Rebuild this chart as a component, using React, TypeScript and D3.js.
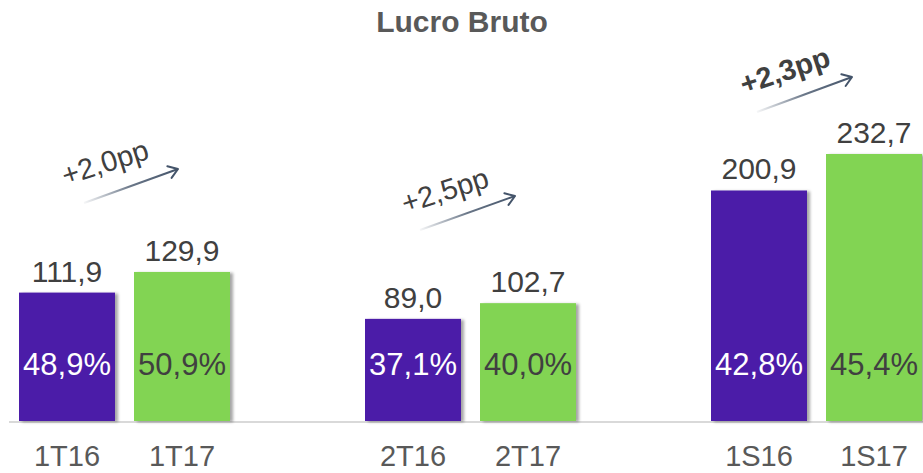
import React from "react";
import * as d3 from "d3";

const categories = ["1T16", "1T17", "2T16", "2T17", "1S16", "1S17"];
const values = [111.9, 129.9, 89.0, 102.7, 200.9, 232.7];
const valueLabels = ["111,9", "129,9", "89,0", "102,7", "200,9", "232,7"];
const marginLabels = ["48,9%", "50,9%", "37,1%", "40,0%", "42,8%", "45,4%"];
const deltaLabels = ["+2,0pp", "+2,5pp", "+2,3pp"];

const W = 923;
const H = 473;
const baseY = 421;
const PURPLE = "#4b1fa8";
const GREEN = "#82d452";
const FONT = "Liberation Sans, Arial, sans-serif";

export default function App() {
  const y = d3.scaleLinear().domain([0, 232.7]).range([baseY, 154]);
  const gx = d3.scaleLinear().domain([0, 2]).range([19, 711]);
  const barW = 96;
  const pairGap = 19;
  const xOf = (i: number) => gx(Math.floor(i / 2)) + (i % 2) * (barW + pairGap);

  const arrows = [
    { x1: 84, y1: 203, x2: 178, y2: 169, tx: 108, ty: 172, bold: false },
    { x1: 420, y1: 230, x2: 515, y2: 196, tx: 448, ty: 200, bold: false },
    { x1: 757, y1: 112, x2: 852, y2: 77, tx: 788, ty: 80, bold: true },
  ];

  return (
    <svg width={W} height={H} style={{ position: "absolute", left: 0, top: 0, background: "#fff" }}>
      <defs>
        <filter id="sh" x="-10%" y="-10%" width="130%" height="120%">
          <feDropShadow dx="3" dy="1" stdDeviation="1.5" floodColor="#000" floodOpacity="0.35" />
        </filter>
        {arrows.map((a, i) => (
          <linearGradient key={i} id={`ag${i}`} gradientUnits="userSpaceOnUse" x1={a.x1} y1={a.y1} x2={a.x2} y2={a.y2}>
            <stop offset="0" stopColor="#44546a" stopOpacity="0.05" />
            <stop offset="0.5" stopColor="#44546a" stopOpacity="0.8" />
            <stop offset="1" stopColor="#44546a" stopOpacity="1" />
          </linearGradient>
        ))}
      </defs>
      <text x={462} y={32} textAnchor="middle" fontFamily={FONT} fontWeight="bold" fontSize={30} fill="#595959">
        Lucro Bruto
      </text>
      <line x1={9} x2={W} y1={baseY + 1} y2={baseY + 1} stroke="#d9d9d9" strokeWidth={2} />
      {values.map((v, i) => {
        const x = xOf(i);
        const cx = x + barW / 2;
        return (
          <g key={i}>
            <rect x={x} y={y(v)} width={barW} height={baseY - y(v)} fill={i % 2 === 0 ? PURPLE : GREEN} filter="url(#sh)" />
            <text x={cx} y={y(v) - 11} textAnchor="middle" fontFamily={FONT} fontSize={30} fill="#404040">
              {valueLabels[i]}
            </text>
            <text x={cx} y={375} textAnchor="middle" fontFamily={FONT} fontSize={31} fill={i % 2 === 0 ? "#ffffff" : "#404040"}>
              {marginLabels[i]}
            </text>
            <text x={cx} y={466} textAnchor="middle" fontFamily={FONT} fontSize={29} fill="#595959">
              {categories[i]}
            </text>
          </g>
        );
      })}
      {arrows.map((a, i) => {
        const ang = (Math.atan2(a.y2 - a.y1, a.x2 - a.x1) * 180) / Math.PI;
        const hl = 11;
        const rad = Math.atan2(a.y2 - a.y1, a.x2 - a.x1);
        const h1x = a.x2 - hl * Math.cos(rad - 0.6);
        const h1y = a.y2 - hl * Math.sin(rad - 0.6);
        const h2x = a.x2 - hl * Math.cos(rad + 0.6);
        const h2y = a.y2 - hl * Math.sin(rad + 0.6);
        return (
          <g key={i}>
            <line x1={a.x1} y1={a.y1} x2={a.x2} y2={a.y2} stroke={`url(#ag${i})`} strokeWidth={2} />
            <path d={`M${h1x},${h1y}L${a.x2},${a.y2}L${h2x},${h2y}`} fill="none" stroke="#44546a" strokeWidth={2} strokeLinecap="round" strokeLinejoin="round" />
            <text
              x={a.tx}
              y={a.ty}
              textAnchor="middle"
              transform={`rotate(${ang + 2} ${a.tx} ${a.ty})`}
              fontFamily={FONT}
              fontSize={29}
              fontWeight={a.bold ? "bold" : "normal"}
              fill="#404040"
            >
              {deltaLabels[i]}
            </text>
          </g>
        );
      })}
    </svg>
  );
}
